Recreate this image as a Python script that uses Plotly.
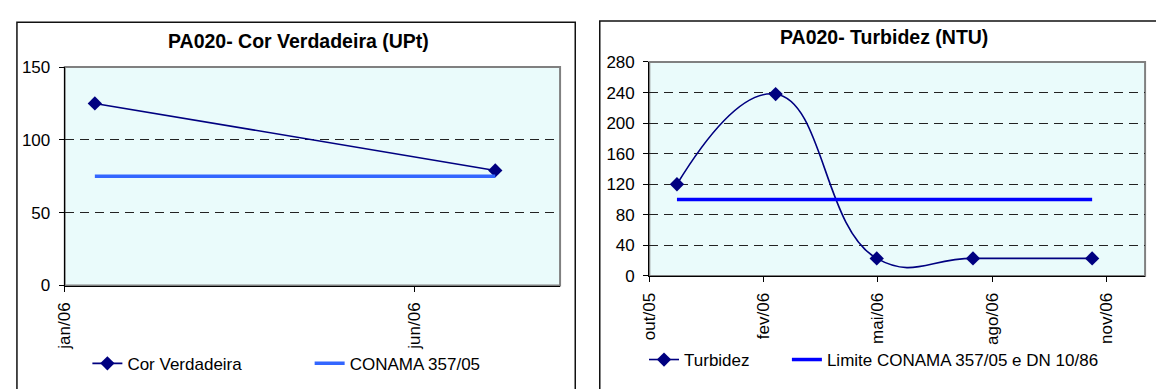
import plotly.graph_objects as go

# Station PA020 - monitoring results
cor_dates = ["2006-01-14", "2006-07-06"]
cor_values = [125, 79]
cor_limit = [75, 75]

turb_dates = ["2005-11-23", "2006-02-13", "2006-05-08", "2006-07-27", "2006-11-03"]
turb_values = [120, 238, 23, 23, 23]
turb_limit = [100, 100, 100, 100, 100]

cor_tickvals = ["2006-01-01", "2006-06-01"]
cor_ticktext = ["jan/06", "jun/06"]
turb_tickvals = ["2005-10-31", "2006-02-03", "2006-05-09", "2006-08-12", "2006-11-15"]
turb_ticktext = ["out/05", "fev/06", "mai/06", "ago/06", "nov/06"]

W, H = 1156, 389
FONT = "Liberation Sans, Arial, sans-serif"
NAVY = "#000080"
BG = "#EAFBFB"


def px_x(v):
    return v / W


def px_y(v):
    return 1 - v / H


fig = go.Figure()

fig.add_trace(go.Scatter(
    x=cor_dates, y=cor_values, name="Cor Verdadeira", mode="lines+markers",
    line=dict(color=NAVY, width=1.6), marker=dict(symbol="diamond", size=11, color=NAVY),
    xaxis="x", yaxis="y", legend="legend"))
fig.add_trace(go.Scatter(
    x=cor_dates, y=cor_limit, name="CONAMA 357/05", mode="lines",
    line=dict(color="#3366FF", width=3.5), xaxis="x", yaxis="y", legend="legend2"))

fig.add_trace(go.Scatter(
    x=turb_dates, y=turb_values, name="Turbidez", mode="lines+markers",
    line=dict(color=NAVY, width=1.6, shape="spline", smoothing=1.3),
    marker=dict(symbol="diamond", size=11, color=NAVY),
    xaxis="x2", yaxis="y2", legend="legend3"))
fig.add_trace(go.Scatter(
    x=turb_dates, y=turb_limit, name="Limite CONAMA 357/05 e DN 10/86", mode="lines",
    line=dict(color="#0000FF", width=3.5), xaxis="x2", yaxis="y2", legend="legend4"))

axis_common = dict(
    showline=True, linecolor="#000000", linewidth=1.2, ticks="outside", ticklen=5,
    tickcolor="#000000", tickfont=dict(family=FONT, size=17, color="#000000"),
    zeroline=False,
)

xdom1 = [px_x(56.2), px_x(555.4)]
ydom1 = [px_y(290.7), px_y(61)]
xdom2 = [px_x(645.3), px_x(1145)]
ydom2 = [px_y(280.7), px_y(55.7)]


def legend_at(x_px, y_px):
    return dict(orientation="h", x=px_x(x_px), y=px_y(y_px), xanchor="left", yanchor="middle",
                font=dict(family=FONT, size=17, color="#000000"),
                bgcolor="rgba(0,0,0,0)", borderwidth=0)


fig.update_layout(
    width=W, height=H, margin=dict(l=0, r=0, t=0, b=0),
    paper_bgcolor="white", plot_bgcolor=BG, showlegend=True,
    font=dict(family=FONT, size=17, color="#000000"),
    xaxis=dict(domain=xdom1, anchor="y", type="date",
               range=["2006-01-01", "2006-08-03"],
               tickmode="array", tickvals=cor_tickvals, ticktext=cor_ticktext,
               tickangle=-90, showgrid=False, ticklabelstandoff=4, **axis_common),
    yaxis=dict(domain=ydom1, anchor="x", range=[0, 150], dtick=50,
               showgrid=True, gridcolor="#222222", griddash="9px,6px", gridwidth=1,
               ticklabelstandoff=5, **axis_common),
    xaxis2=dict(domain=xdom2, anchor="y2", type="date",
                range=["2005-10-31", "2006-12-17"],
                tickmode="array", tickvals=turb_tickvals, ticktext=turb_ticktext,
                tickangle=-90, showgrid=False, ticklabelstandoff=4, **axis_common),
    yaxis2=dict(domain=ydom2, anchor="x2", range=[0, 280], dtick=40,
                showgrid=True, gridcolor="#222222", griddash="9px,6px", gridwidth=1,
                ticklabelstandoff=5, **axis_common),
    legend=legend_at(79, 373),
    legend2=legend_at(303, 373),
    legend3=legend_at(640, 369),
    legend4=legend_at(784, 369),
    annotations=[
        dict(text="<b>PA020- Cor Verdadeira (UPt)</b>", x=px_x(291.7), y=px_y(34),
             xref="paper", yref="paper", showarrow=False, xanchor="center", yanchor="middle",
             font=dict(family=FONT, size=19.5, color="#000000")),
        dict(text="<b>PA020- Turbidez (NTU)</b>", x=px_x(881.7), y=px_y(29.7),
             xref="paper", yref="paper", showarrow=False, xanchor="center", yanchor="middle",
             font=dict(family=FONT, size=19.5, color="#000000")),
    ],
    shapes=[
        # chart frames
        dict(type="rect", xref="paper", yref="paper", x0=px_x(8), x1=px_x(570.7),
             y0=-0.2, y1=px_y(14), line=dict(color="#111111", width=1.5), layer="below"),
        dict(type="rect", xref="paper", yref="paper", x0=px_x(595.4), x1=1.2,
             y0=-0.2, y1=px_y(12.7), line=dict(color="#111111", width=1.5), layer="below"),
        # plot-area borders
        dict(type="rect", xref="x domain", yref="y domain", x0=0, x1=1, y0=0, y1=1,
             line=dict(color="#808080", width=2), layer="below"),
        dict(type="rect", xref="x2 domain", yref="y2 domain", x0=0, x1=1, y0=0, y1=1,
             line=dict(color="#808080", width=2), layer="below"),
    ],
)

fig.write_html("out.html")
